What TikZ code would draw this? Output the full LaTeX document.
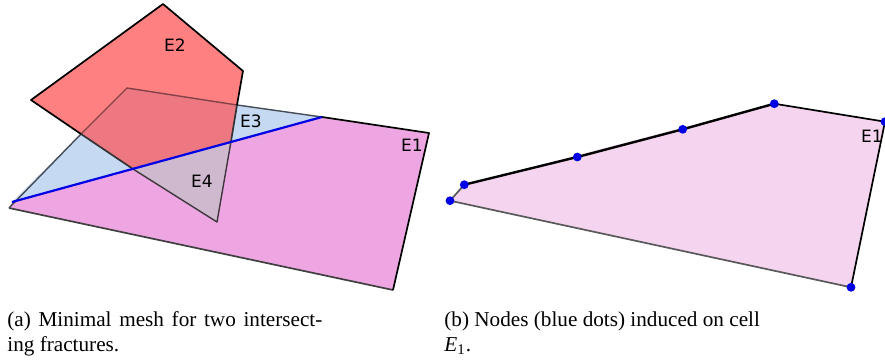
\documentclass[tikz,border=0pt]{standalone}
\usepackage{fontspec}
\setmainfont{Liberation Serif}
\newfontfamily\labelfont{DejaVu Sans}
\definecolor{cellpink}{RGB}{238, 166, 226}
\definecolor{cellblue}{RGB}{197, 217, 243}
\definecolor{cellred}{RGB}{255, 128, 128}
\definecolor{cellmix}{RGB}{237, 120, 130}
\definecolor{cellgrey}{RGB}{207, 185, 207}
\definecolor{celllight}{RGB}{245, 212, 240}
\usepackage{tikz}

\begin{document}
\begin{tikzpicture}[
    x=0.5pt, y=-0.5pt,
    edge/.style={black, line width=0.85pt, line join=round},
    faded/.style={black!65!cellblue, line width=0.7pt, line join=round},
    cut/.style={blue!90!black, line width=1.1pt},
    dot/.style={circle, fill=blue!90!black, inner sep=0pt, minimum size=4.4pt},
    tag/.style={font=\labelfont\fontsize{8.5}{10}\selectfont, inner sep=0pt, text=black},
    caption/.style={anchor=north west, align=left, inner sep=0pt, font=\fontsize{10.6}{12.5}\selectfont}
]
    \clip (0,0) rectangle (885,360);

    % left mesh
    \coordinate (a1) at (9,208);
    \coordinate (a2) at (393,290);
    \coordinate (a3) at (429,133);
    \coordinate (a4) at (322,117);
    \coordinate (a5) at (12,202);
    \coordinate (b1) at (127,88);
    \coordinate (c1) at (31,100);
    \coordinate (c2) at (163,4);
    \coordinate (c3) at (243,71);
    \coordinate (c4) at (217,222);
    \coordinate (p) at (133,169);
    \coordinate (q) at (231,141.5);
    \coordinate (r) at (81,134);
    \coordinate (s) at (237,105);

    \fill[cellpink] (a1) -- (a2) -- (a3) -- (a4) -- (a5) -- cycle;
    \fill[cellblue] (a5) -- (b1) -- (a4) -- cycle;
    \fill[cellred] (c1) -- (c2) -- (c3) -- (q) -- (p) -- cycle;
    \fill[cellmix] (r) -- (b1) -- (s) -- (q) -- (p) -- cycle;
    \fill[cellgrey] (p) -- (q) -- (c4) -- cycle;

    \draw[edge, black!75] (a1) -- (a2);
    \draw[edge] (a2) -- (a3) -- (a4);
    \draw[faded] (a1) -- (r);
    \draw[faded] (s) -- (a4);
    \draw[faded, black!45!cellmix] (r) -- (b1) -- (s);
    \draw[edge] (r) -- (c1) -- (c2) -- (c3) -- (s);
    \draw[edge, black!80] (r) -- (p);
    \draw[edge, black!80] (s) -- (q);
    \draw[faded, black!70!cellgrey] (p) -- (c4) -- (q);
    \draw[cut] (a5) -- (a4);

    \node[tag] (e2) at (175,45) {E2};
    \node[tag] (e3) at (251,121) {E3};
    \node[tag] (e4) at (202,181) {E4};
    \node[tag] (e1) at (412,145) {E1};

    % right cell
    \coordinate (n1) at (450,200.7);
    \coordinate (n2) at (464.3,184.7);
    \coordinate (n3) at (577.3,157);
    \coordinate (n4) at (682.7,129.3);
    \coordinate (n5) at (774.3,103.7);
    \coordinate (n6) at (885,121.7);
    \coordinate (n7) at (851,287.3);

    \fill[celllight] (n1) -- (n2) -- (n5) -- (n6) -- (n7) -- cycle;
    \draw[edge, black!65] (n1) -- (n2);
    \draw[edge, line width=1.2pt] (n2) -- (n3) -- (n4) -- (n5);
    \draw[edge] (n5) -- (n6) -- (n7);
    \draw[edge, black!65] (n7) -- (n1);

    \node[dot] (d1) at (n1) {};
    \node[dot] (d2) at (n2) {};
    \node[dot] (d3) at (n3) {};
    \node[dot] (d4) at (n4) {};
    \node[dot] (d5) at (n5) {};
    \node[dot] (d6) at (n6) {};
    \node[dot] (d7) at (n7) {};

    \node[tag] (e1b) at (872,136) {E1};

    % captions
    \node[caption] (capa) at (7,311) {\makebox[157.5pt][s]{(a) Minimal mesh for two intersect-}\\ing fractures.};
    \node[caption] (capb) at (444,311) {(b) Nodes (blue dots) induced on cell\\\textit{E}\textsubscript{1}.};
\end{tikzpicture}
\end{document}
